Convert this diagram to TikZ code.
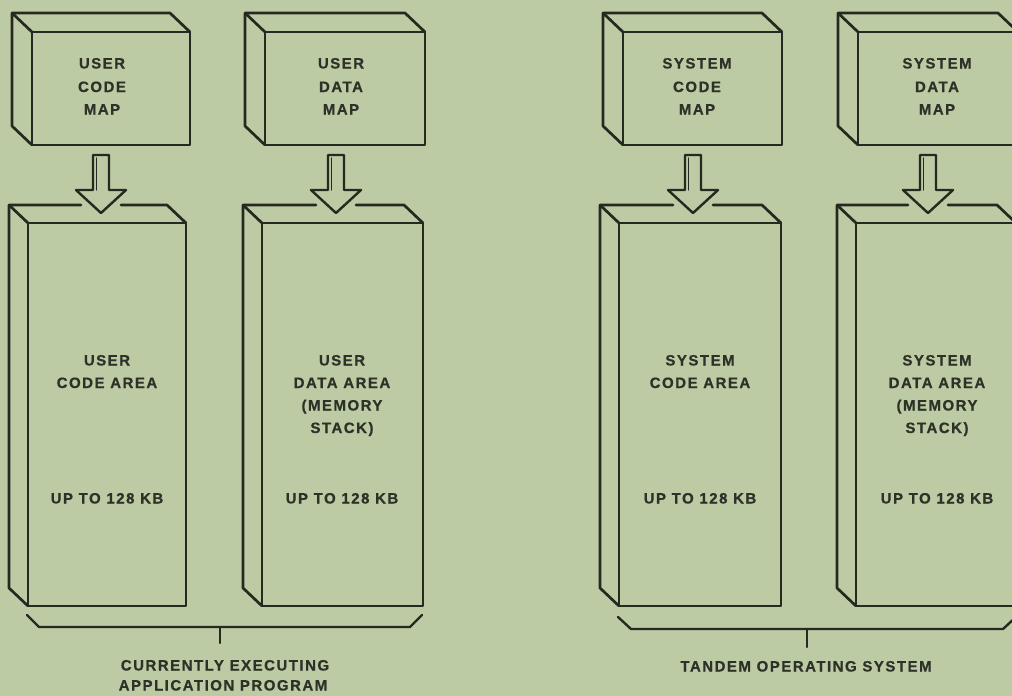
\documentclass[tikz,border=0pt]{standalone}
\usepackage{fontspec}
\newfontfamily\lblfont{Liberation Sans}[LetterSpace=10,FakeBold=0.6]
\usetikzlibrary{calc}
\definecolor{bgc}{HTML}{BCCBA4}
\definecolor{ink}{HTML}{26291F}
\definecolor{txt}{HTML}{2E3127}
\newcommand\hollowarrow[1]{%
  \draw[barrow] (#1) ++(-8,0) -- ++(16,0) -- ++(0,35) -- ++(17,0) -- ++(-25,23) -- ++(-25,-23) -- ++(17,0) -- cycle;
  \draw[edge,line width=1.4pt] (#1) ++(-4.5,3) -- ++(0,32);}
\begin{document}
\begin{tikzpicture}[x=1pt,y=-1pt,
  edge/.style={draw=ink,line width=2.7pt,line cap=round,line join=round},
  face/.style={edge,rectangle,inner sep=0pt,outer sep=0pt},
  lbl/.style={font=\lblfont\bfseries\fontsize{15}{18}\selectfont,text=txt,inner sep=0pt,anchor=base},
  barrow/.style={edge,fill=bgc,line width=2.4pt}]
\fill[bgc] (0,0) rectangle (1012,696);
\useasboundingbox (0,0) rectangle (1012,696);

% ---------- map boxes (front faces) ----------
\node[face,minimum width=158pt,minimum height=113pt] (ucm) at (111,88.5) {};
\node[face,minimum width=160pt,minimum height=113pt] (udm) at (345,88.5) {};
\node[face,minimum width=159pt,minimum height=113pt] (scm) at (702.5,88.5) {};
\node[face,minimum width=160pt,minimum height=113pt] (sdm) at (938,88.5) {};
\foreach \m in {ucm,udm,scm,sdm}{
  \draw[edge] (\m.south west) -- ++(-20,-19) |- ($(\m.north east)+(-20,-19)$) -- (\m.north east);
  \draw[edge] (\m.north west) -- ++(-20,-19);
}

% ---------- memory areas (front faces) ----------
\node[face,minimum width=158pt,minimum height=383pt] (uca) at (107,414.5) {};
\node[face,minimum width=161pt,minimum height=383pt] (uda) at (342.5,414.5) {};
\node[face,minimum width=162pt,minimum height=383pt] (sca) at (700,414.5) {};
\node[face,minimum width=160pt,minimum height=383pt] (sda) at (936,414.5) {};

% arrow coordinates (tail top, tip)
\coordinate (a1t) at (101,155); \coordinate (a1b) at (101,213);
\coordinate (a2t) at (336,155); \coordinate (a2b) at (336,213);
\coordinate (a3t) at (693,155); \coordinate (a3b) at (693,213);
\coordinate (a4t) at (928,155); \coordinate (a4b) at (928,213);

\foreach \a/\n in {uca/1,uda/2,sca/3,sda/4}{
  \draw[edge] (\a.south west) -- ++(-19,-18) |- ($(a\n b)+(-20,-8)$);
  \draw[edge] ($(a\n b)+(20,-8)$) -- ($(\a.north east)+(-19,-18)$) -- (\a.north east);
  \draw[edge] (\a.north west) -- ++(-19,-18);
}

% ---------- hollow arrows ----------
\hollowarrow{a1t}
\hollowarrow{a2t}
\hollowarrow{a3t}
\hollowarrow{a4t}

% ---------- brackets ----------
\coordinate (g1) at (220,627);
\coordinate (g2) at (807,629);
\draw[edge,line width=2.4pt] (27,615) -- (39,627) -- (410,627) -- (422,615);
\draw[edge,line width=2.4pt] (g1) -- ++(0,16);
\draw[edge,line width=2.4pt] (618,617) -- (631,629) -- (1003,629) -- (1016,617);
\draw[edge,line width=2.4pt] (g2) -- ++(0,18);

% ---------- map labels ----------
\node[lbl] (t1a) at (102,68.5) {USER};
\node[lbl] (t1b) at (102,92) {CODE};
\node[lbl] (t1c) at (102,114.5) {MAP};
\node[lbl] (t2a) at (341,68.5) {USER};
\node[lbl] (t2b) at (341,92) {DATA};
\node[lbl] (t2c) at (341,114.5) {MAP};
\node[lbl] (t3a) at (697,68.5) {SYSTEM};
\node[lbl] (t3b) at (697,92) {CODE};
\node[lbl] (t3c) at (697,114.5) {MAP};
\node[lbl] (t4a) at (937,68.5) {SYSTEM};
\node[lbl] (t4b) at (937,92) {DATA};
\node[lbl] (t4c) at (937,114.5) {MAP};

% ---------- area labels ----------
\node[lbl] (u1a) at (107,365.5) {USER};
\node[lbl] (u1b) at (107,388) {CODE AREA};
\node[lbl] (u1c) at (107,503.5) {UP TO 128 KB};
\node[lbl] (u2a) at (342,365.5) {USER};
\node[lbl] (u2b) at (342,388) {DATA AREA};
\node[lbl] (u2c) at (342,410.5) {(MEMORY};
\node[lbl] (u2d) at (342,433) {STACK)};
\node[lbl] (u2e) at (342,503.5) {UP TO 128 KB};
\node[lbl] (u3a) at (700,365.5) {SYSTEM};
\node[lbl] (u3b) at (700,388) {CODE AREA};
\node[lbl] (u3c) at (700,503.5) {UP TO 128 KB};
\node[lbl] (u4a) at (937,365.5) {SYSTEM};
\node[lbl] (u4b) at (937,388) {DATA AREA};
\node[lbl] (u4c) at (937,410.5) {(MEMORY};
\node[lbl] (u4d) at (937,433) {STACK)};
\node[lbl] (u4e) at (937,503.5) {UP TO 128 KB};

% ---------- group labels ----------
\node[lbl] (c1a) at (225,670.5) {CURRENTLY EXECUTING};
\node[lbl] (c1b) at (223,690.5) {APPLICATION PROGRAM};
\node[lbl] (c2) at (806,671.5) {TANDEM OPERATING SYSTEM};
\end{tikzpicture}
\end{document}
